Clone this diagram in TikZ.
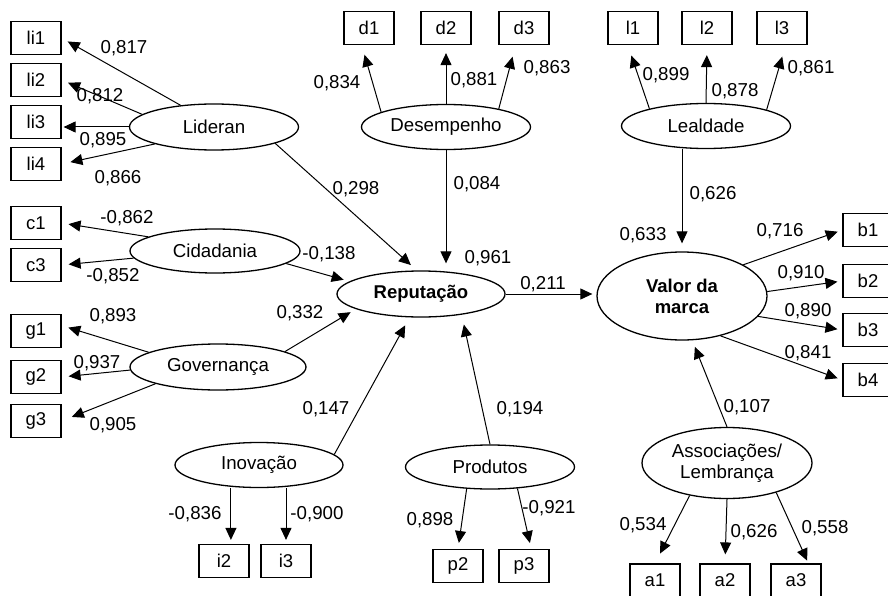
\documentclass[tikz,border=0pt]{standalone}
\usepackage{fontspec}
\setmainfont{Liberation Sans}
\usepackage{tikz}
\usetikzlibrary{arrows.meta}
\usetikzlibrary{shapes.geometric}

\tikzset{
	var/.style={draw, line width=1.2pt, minimum width=50pt, minimum height=33pt, inner sep=0pt, font=\fontsize{18.5}{21}\selectfont},
	lat/.style={draw, ellipse, line width=1.3pt, inner sep=0pt, align=center, font=\fontsize{18.7}{21}\selectfont},
	ld/.style={inner sep=0pt, text height=13pt, text depth=0pt, font=\fontsize{18.7}{21}\selectfont},
	arr/.style={line width=1pt, -{Triangle[length=12pt,width=11pt]}, shorten >=7pt},
}

\begin{document}
\begin{tikzpicture}[x=1pt, y=-1pt]
		\useasboundingbox (0,0) rectangle (888,596);
		% indicadores
		\node[var] (li1) at (36,38) {li1};
		\node[var] (li2) at (36,80) {li2};
		\node[var] (li3) at (36,122) {li3};
		\node[var] (li4) at (36,164) {li4};
		\node[var] (c1) at (36,223) {c1};
		\node[var] (c3) at (36,265) {c3};
		\node[var] (g1) at (36,331) {g1};
		\node[var] (g2) at (36,377) {g2};
		\node[var] (g3) at (36,421) {g3};
		\node[var] (d1) at (369,28) {d1};
		\node[var] (d2) at (446,28) {d2};
		\node[var] (d3) at (524,28) {d3};
		\node[var] (l1) at (633,28) {l1};
		\node[var] (l2) at (707,28) {l2};
		\node[var] (l3) at (782,28) {l3};
		\node[var] (b1) at (868,230) {b1};
		\node[var] (b2) at (868,281) {b2};
		\node[var] (b3) at (868,330) {b3};
		\node[var] (b4) at (868,380) {b4};
		\node[var] (i2) at (224,561) {i2};
		\node[var] (i3) at (286,561) {i3};
		\node[var] (p2) at (458,566) {p2};
		\node[var] (p3) at (524,566) {p3};
		\node[var] (a1) at (655,580.5) {a1};
		\node[var] (a2) at (725,580.5) {a2};
		\node[var] (a3) at (796,580.5) {a3};
		% construtos
		\node[lat, minimum width=169pt, minimum height=46pt] (Lid) at (214,127) {Lideran};
		\node[lat, minimum width=170pt, minimum height=44pt] (Cid) at (215,251) {Cidadania};
		\node[lat, minimum width=176pt, minimum height=46pt] (Gov) at (218,367) {Governança};
		\node[lat, minimum width=169pt, minimum height=45pt] (Des) at (446,127) {Desempenho};
		\node[lat, minimum width=169pt, minimum height=45pt] (Leal) at (706,126) {Lealdade};
		\node[lat, minimum width=168pt, minimum height=46pt, font=\fontsize{18.5}{21}\selectfont\bfseries] (Rep) at (421,294) {Reputação};
		\node[lat, minimum width=170pt, minimum height=88pt, font=\fontsize{18.5}{21}\selectfont\bfseries] (Val) at (682,296) {Valor da\\marca};
		\node[lat, minimum width=168pt, minimum height=45pt] (Ino) at (259,465) {Inovação};
		\node[lat, minimum width=169pt, minimum height=44pt] (Prod) at (490,467) {Produtos};
		\node[lat, minimum width=170pt, minimum height=71pt] (Assoc) at (727,463) {Associações/\\Lembrança};

		\draw[arr] (Lid.147) -- (li1.east);
		\draw[arr] (Lid.170) -- (li2.east);
		\draw[arr, shorten >=2pt] (Lid.west) -- (Lid.west -| li3.east);
		\draw[arr, shorten >=9pt] (Lid.196) -- (li4.east);
		\draw[arr, shorten >=8pt] (Lid.-15) -- (Rep.100);
		\draw[arr] (Cid.168) -- (c1.east);
		\draw[arr] (Cid.185) -- (c3.east);
		\draw[arr, shorten >=6pt] (Cid.-10) -- (Rep.170);
		\draw[arr] (Gov.168) -- (g1.12);
		\draw[arr] (Gov.182) -- (g2.east);
		\draw[arr, shorten >=11pt] (Gov.195) -- (g3.east);
		\draw[arr, shorten >=6pt] (Gov.13) -- (Rep.193);
		\draw[arr, shorten >=10pt] (Des.167) -- (d1.247);
		\draw[arr, shorten >=8pt] (Des.north) -- (d2.south);
		\draw[arr, shorten >=12pt] (Des.19) -- (d3.244);
		\draw[arr] (Des.south) -- (Des.south |- Rep.north);
		\draw[arr, shorten >=11pt] (Leal.163) -- (l1.253);
		\draw[arr, shorten >=10pt] (Leal.north) -- (l2.south);
		\draw[arr, shorten >=12pt] (Leal.15) -- (l3.282);
		\draw[arr, shorten >=8pt] (Leal.south -| Val.north) -- (Val.north);
		\draw[arr, shorten >=4pt] (Rep.east) -- (Rep.east -| Val.west);
		\draw[arr, shorten >=5pt] (Val.27) -- (b1.west);
		\draw[arr, shorten >=5pt] (Val.3) -- (b2.west);
		\draw[arr, shorten >=5pt] (Val.-15) -- (b3.west);
		\draw[arr, shorten >=5pt] (Val.-46) -- (b4.west);
		\draw[arr] (Assoc.north) -- (Val.283);
		\draw[arr, shorten >=11pt] (Assoc.221) -- (a1.north);
		\draw[arr, shorten >=9pt] (Assoc.south) -- (a2.north);
		\draw[arr, shorten >=3pt] (Assoc.-31) -- (a3.54);
		\draw[arr, shorten >=4pt] (Ino.south -| i2.68) -- (i2.68);
		\draw[arr, shorten >=4pt] (Ino.south -| i3.north) -- (i3.north);
		\draw[arr, shorten >=9pt] (Ino.8) -- (Rep.244);
		\draw[arr, shorten >=10pt] (Prod.north) -- (Rep.-27);
		\draw[arr, shorten >=6pt] (Prod.223) -- (p2.north);
		\draw[arr, shorten >=6pt] (Prod.-38) -- (p3.67);

		% cargas
		\node[ld] (t-li1) at (124,47) {0,817};
		\node[ld] (t-li2) at (100,95) {0,812};
		\node[ld] (t-li3) at (103,139) {0,895};
		\node[ld] (t-li4) at (118,177) {0,866};
		\node[ld] (t-c1) at (127,217) {-0,862};
		\node[ld] (t-c3) at (113,275) {-0,852};
		\node[ld] (t-cid) at (329,253) {-0,138};
		\node[ld] (t-g1) at (113,315) {0,893};
		\node[ld] (t-g2) at (97,362) {0,937};
		\node[ld] (t-g3) at (113,424) {0,905};
		\node[ld] (t-gov) at (300,312) {0,332};
		\node[ld] (t-ino) at (326,408) {0,147};
		\node[ld] (t-d1) at (337,82) {0,834};
		\node[ld] (t-d2) at (474,79) {0,881};
		\node[ld] (t-d3) at (547,67) {0,863};
		\node[ld] (t-des) at (477,183) {0,084};
		\node[ld] (t-lid) at (356,188) {0,298};
		\node[ld] (t-l1) at (666,74) {0,899};
		\node[ld] (t-l2) at (735,90) {0,878};
		\node[ld] (t-l3) at (811,67) {0,861};
		\node[ld] (t-leal) at (713,193) {0,626};
		\node[ld] (t-val) at (643,234) {0,633};
		\node[ld] (t-b1) at (780,230) {0,716};
		\node[ld] (t-b2) at (801,272) {0,910};
		\node[ld] (t-b3) at (808,310) {0,890};
		\node[ld] (t-b4) at (808,352) {0,841};
		\node[ld] (t-assoc) at (747,406) {0,107};
		\node[ld] (t-a1) at (643,524) {0,534};
		\node[ld] (t-a2) at (754,531) {0,626};
		\node[ld] (t-a3) at (825,527) {0,558};
		\node[ld] (t-i2) at (195,513) {-0,836};
		\node[ld] (t-i3) at (317,513) {-0,900};
		\node[ld] (t-p2) at (430,519) {0,898};
		\node[ld] (t-p3) at (549,507) {-0,921};
		\node[ld] (t-prod) at (520,408) {0,194};
		\node[ld] (t-rep) at (488,257) {0,961};
		\node[ld] (t-rv) at (543,283) {0,211};
	\end{tikzpicture}
\end{document}
